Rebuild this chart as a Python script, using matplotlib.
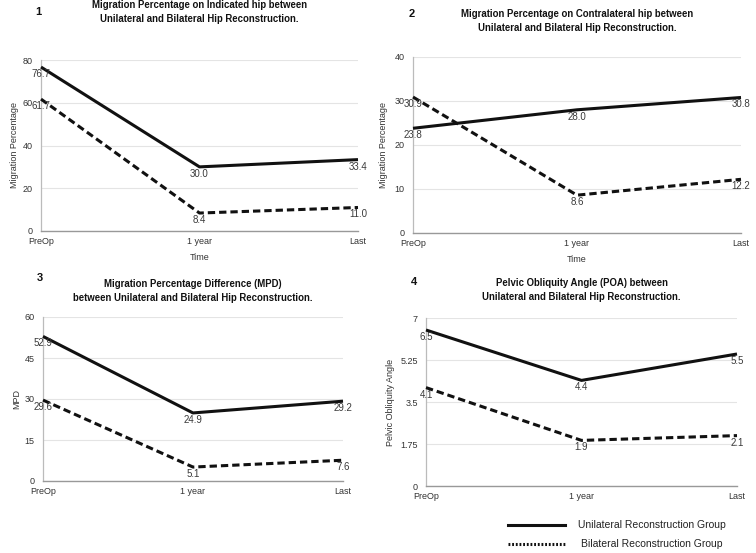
import matplotlib
matplotlib.use("Agg")
import matplotlib.pyplot as plt
from matplotlib.lines import Line2D

plt.rcParams['font.family'] = ['Liberation Sans', 'DejaVu Sans']

W, H = 756, 553

time_labels = ["PreOp", "1 year", "Last"]

p1_uni = [76.7, 30.0, 33.4]
p1_bi = [61.7, 8.4, 11.0]
p2_uni = [23.8, 28.0, 30.8]
p2_bi = [30.9, 8.6, 12.2]
p3_uni = [52.9, 24.9, 29.2]
p3_bi = [29.6, 5.1, 7.6]
p4_uni = [6.5, 4.4, 5.5]
p4_bi = [4.1, 1.9, 2.1]

p1_ticks = [0, 20, 40, 60, 80]
p2_ticks = [0, 10, 20, 30, 40]
p3_ticks = [0, 15, 30, 45, 60]
p4_ticks = [0, 1.75, 3.5, 5.25, 7]
p4_ticklabels = ["0", "1.75", "3.5", "5.25", "7"]

panels = [
    dict(num="1", uni=p1_uni, bi=p1_bi, ticks=p1_ticks, ticklabels=None,
         title="Migration Percentage on Indicated hip between\nUnilateral and Bilateral Hip Reconstruction.",
         ylabel="Migration Percentage", xlabel="Time",
         box=(41, 358, 60, 231), title_y=12, num_xy=(38, 12), ylab_x=15, xlab_y=257),
    dict(num="2", uni=p2_uni, bi=p2_bi, ticks=p2_ticks, ticklabels=None,
         title="Migration Percentage on Contralateral hip between\nUnilateral and Bilateral Hip Reconstruction.",
         ylabel="Migration Percentage", xlabel="Time",
         box=(413, 741, 57, 233), title_y=21, num_xy=(412, 14), ylab_x=384, xlab_y=260),
    dict(num="3", uni=p3_uni, bi=p3_bi, ticks=p3_ticks, ticklabels=None,
         title="Migration Percentage Difference (MPD)\nbetween Unilateral and Bilateral Hip Reconstruction.",
         ylabel="MPD", xlabel=None,
         box=(43, 343, 317, 481), title_y=291, num_xy=(40, 278), ylab_x=17, xlab_y=None),
    dict(num="4", uni=p4_uni, bi=p4_bi, ticks=p4_ticks, ticklabels=p4_ticklabels,
         title="Pelvic Obliquity Angle (POA) between\nUnilateral and Bilateral Hip Reconstruction.",
         ylabel="Pelvic Obliquity Angle", xlabel=None,
         box=(426, 737, 318, 486), title_y=290, num_xy=(414, 282), ylab_x=390, xlab_y=None),
]

fig = plt.figure(figsize=(W / 100, H / 100), dpi=100)
fig.patch.set_facecolor("white")

TXT = "#333333"
x = list(range(len(time_labels)))

for p in panels:
    l, r, t, b = p["box"]
    ax = fig.add_axes([l / W, 1 - b / H, (r - l) / W, (b - t) / H])
    ax.set_facecolor("white")
    ax.plot(x, p["uni"], color="#111111", lw=2.2, solid_capstyle="butt", zorder=3, clip_on=False)
    ax.plot(x, p["bi"], color="#111111", lw=2.2, dashes=(2.4, 1.3), zorder=3, clip_on=False)
    for series in (p["uni"], p["bi"]):
        for xi, v in zip(x, series):
            ax.annotate(f"{v:.1f}", (xi, v), xytext=(0, -5), textcoords="offset points",
                        ha="center", va="center", fontsize=7, color="#3a3a3a", zorder=4)
    ax.set_xlim(0, 2)
    ax.set_ylim(p["ticks"][0], p["ticks"][-1])
    ax.set_yticks(p["ticks"])
    if p["ticklabels"]:
        ax.set_yticklabels(p["ticklabels"])
    ax.set_xticks(x)
    ax.set_xticklabels(time_labels)
    ax.tick_params(length=0, labelsize=6.5, colors=TXT)
    ax.tick_params(axis="y", pad=6)
    ax.tick_params(axis="x", pad=4)
    ax.grid(axis="y", color="#e4e4e4", lw=0.8)
    ax.set_axisbelow(True)
    for s in ("top", "right"):
        ax.spines[s].set_visible(False)
    ax.spines["left"].set_color("#bbbbbb")
    ax.spines["bottom"].set_color("#999999")
    ax.spines["left"].set_linewidth(0.9)
    ax.spines["bottom"].set_linewidth(1.0)

    cx = (l + r) / 2
    fig.text(cx / W, 1 - p["title_y"] / H, p["title"], ha="center", va="center",
             fontsize=6.9, fontweight="bold", color="#111111", linespacing=1.45)
    fig.text(p["num_xy"][0] / W, 1 - p["num_xy"][1] / H, p["num"], ha="center", va="center",
             fontsize=8, fontweight="bold", color="#111111")
    fig.text(p["ylab_x"] / W, 1 - ((t + b) / 2) / H, p["ylabel"], rotation=90,
             ha="center", va="center", fontsize=6.5, color=TXT)
    if p["xlabel"]:
        fig.text(cx / W, 1 - p["xlab_y"] / H, p["xlabel"], ha="center", va="center",
                 fontsize=6.5, color=TXT)

# legend
fig.lines.append(Line2D([508 / W, 565 / W], [1 - 525 / H, 1 - 525 / H], transform=fig.transFigure,
                        color="#111111", lw=2.2))
fig.lines.append(Line2D([508 / W, 565 / W], [1 - 544 / H, 1 - 544 / H], transform=fig.transFigure,
                        color="#111111", lw=2.2, dashes=(0.6, 0.6)))
fig.text(578 / W, 1 - 525 / H, "Unilateral Reconstruction Group", ha="left", va="center",
         fontsize=7.5, color="#222222")
fig.text(581 / W, 1 - 544 / H, "Bilateral Reconstruction Group", ha="left", va="center",
         fontsize=7.5, color="#222222")

fig.savefig("out.png", dpi=100, facecolor="white")
